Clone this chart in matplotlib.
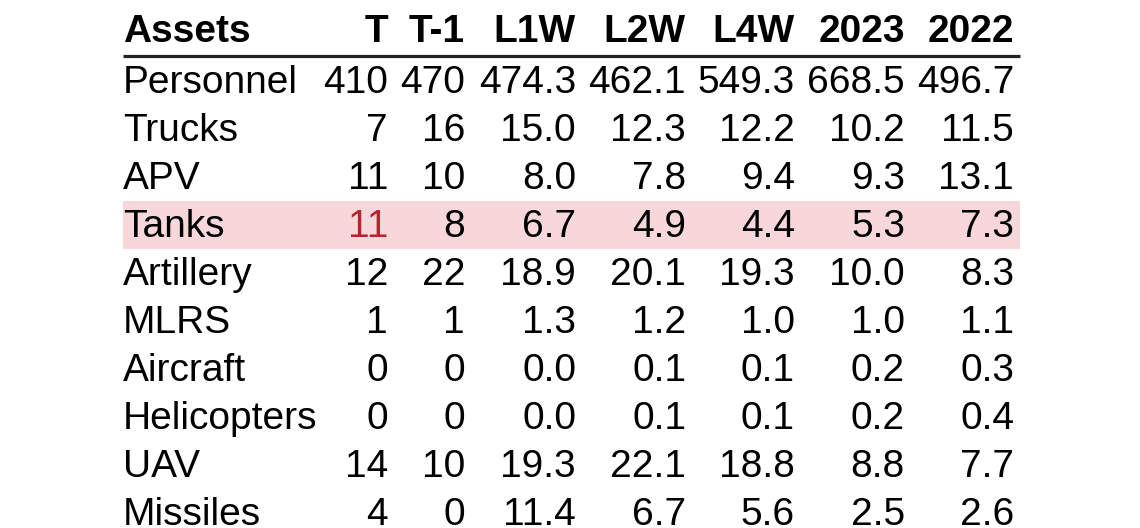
import matplotlib
matplotlib.use("Agg")
import matplotlib.pyplot as plt
from matplotlib.patches import Rectangle

columns = ["T", "T-1", "L1W", "L2W", "L4W", "2023", "2022"]
assets = ["Personnel", "Trucks", "APV", "Tanks", "Artillery", "MLRS",
          "Aircraft", "Helicopters", "UAV", "Missiles"]
t_vals = [410, 7, 11, 11, 12, 1, 0, 0, 14, 4]
t1_vals = [470, 16, 10, 8, 22, 1, 0, 0, 10, 0]
l1w_vals = [474.3, 15.0, 8.0, 6.7, 18.9, 1.3, 0.0, 0.0, 19.3, 11.4]
l2w_vals = [462.1, 12.3, 7.8, 4.9, 20.1, 1.2, 0.1, 0.1, 22.1, 6.7]
l4w_vals = [549.3, 12.2, 9.4, 4.4, 19.3, 1.0, 0.1, 0.1, 18.8, 5.6]
y2023_vals = [668.5, 10.2, 9.3, 5.3, 10.0, 1.0, 0.2, 0.2, 8.8, 2.5]
y2022_vals = [496.7, 11.5, 13.1, 7.3, 8.3, 1.1, 0.3, 0.4, 7.7, 2.6]
highlight_row = "Tanks"

plt.rcParams['font.family'] = ['Liberation Sans', 'DejaVu Sans']

fig = plt.figure(figsize=(11.4, 5.28), dpi=100)
ax = fig.add_axes([0, 0, 1, 1])
ax.set_xlim(0, 1140)
ax.set_ylim(528, 0)
ax.axis("off")

fs = 28
left = 123
right = 1020
col_right = [388, 465, 576, 686, 795, 905, 1014]
header_base = 42
row0_base = 93
pitch = 48

# header
ax.text(left, header_base, "Assets", fontsize=fs, fontweight="bold",
        ha="left", va="baseline", color="black")
for c, x in zip(columns, col_right):
    ax.text(x, header_base, c, fontsize=fs, fontweight="bold",
            ha="right", va="baseline", color="black")
ax.plot([left, right], [55.5, 55.5], color="#222222", lw=2.3,
        solid_capstyle="butt")

series = [t_vals, t1_vals, l1w_vals, l2w_vals, l4w_vals, y2023_vals, y2022_vals]
for i, name in enumerate(assets):
    base = row0_base + i * pitch
    if name == highlight_row:
        ax.add_patch(Rectangle((left, base - 36), right - left, 48,
                               facecolor="#f8d7da", edgecolor="none", zorder=0))
    ax.text(left, base, name, fontsize=fs, ha="left", va="baseline", color="black")
    for j, (vals, x) in enumerate(zip(series, col_right)):
        v = vals[i]
        s = f"{v:d}" if j < 2 else f"{v:.1f}"
        color = "#b5252e" if (name == highlight_row and j == 0) else "black"
        ax.text(x, base, s, fontsize=fs, ha="right", va="baseline", color=color)

fig.savefig("out.png", dpi=100)
